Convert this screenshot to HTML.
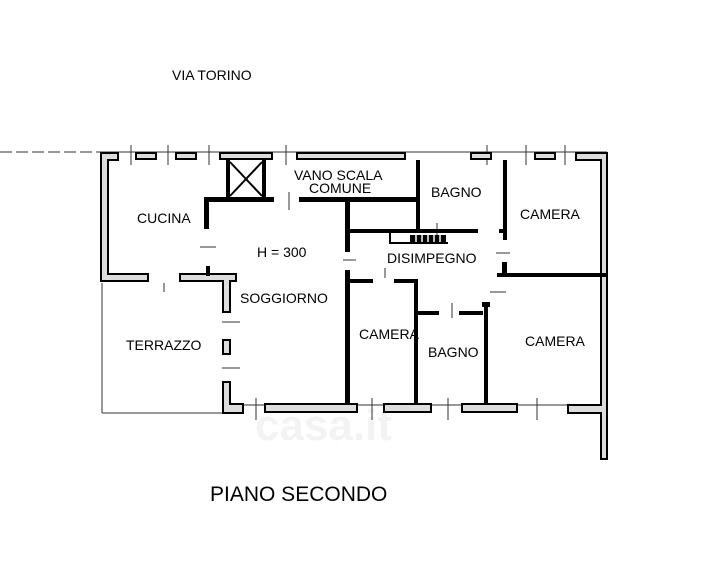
<!DOCTYPE html>
<html><head><meta charset="utf-8"><style>
html,body{margin:0;padding:0;background:#fff;}
svg{display:block;}
text{font-family:"Liberation Sans",Arial,sans-serif;fill:#000;}
</style></head><body>
<svg width="720" height="564" viewBox="0 0 720 564" xmlns="http://www.w3.org/2000/svg">
<rect width="720" height="564" fill="#fff"/>
<text x="255" y="440" font-size="44" font-weight="bold" style="fill:#f3f3f3">casa.it</text>
<g stroke="#333" stroke-width="1">
<line x1="0" y1="152" x2="100" y2="152" stroke-dasharray="12,4"/>
<line x1="100" y1="152" x2="607" y2="152"/>
<line x1="131" y1="145" x2="131" y2="165"/><line x1="168" y1="145" x2="168" y2="165"/>
<line x1="209" y1="145" x2="209" y2="165"/><line x1="286" y1="145" x2="286" y2="165"/>
<line x1="487" y1="145" x2="487" y2="165"/><line x1="526" y1="145" x2="526" y2="165"/>
<line x1="565" y1="145" x2="565" y2="165"/>
<line x1="102" y1="283" x2="102" y2="413"/>
<line x1="102" y1="413" x2="240" y2="413"/>
<line x1="164" y1="283" x2="164" y2="292"/>
<line x1="222" y1="322" x2="240" y2="322"/><line x1="222" y1="368" x2="240" y2="368"/>
<line x1="240" y1="405" x2="604" y2="405"/>
<line x1="256" y1="398" x2="256" y2="420"/><line x1="372" y1="398" x2="372" y2="420"/>
<line x1="448" y1="398" x2="448" y2="420"/><line x1="537" y1="398" x2="537" y2="420"/>
<line x1="289" y1="192" x2="289" y2="210"/><line x1="437" y1="223" x2="437" y2="240"/>
<line x1="200" y1="247" x2="216" y2="247"/><line x1="343" y1="260" x2="356" y2="260"/>
<line x1="496" y1="253" x2="510" y2="253"/><line x1="490" y1="292" x2="506" y2="292"/>
<line x1="385" y1="268" x2="385" y2="278"/>
<line x1="452" y1="303" x2="452" y2="318"/>
</g>
<g fill="#ddd" stroke="#000" stroke-width="2">
<path d="M101,153 H118 V160 H108 V274 H148 V281 H101 Z"/>
<path d="M180,274 H236 V281 H230 V312 H223 V281 H180 Z"/>
<rect x="136" y="153" width="20" height="6"/>
<rect x="176" y="153" width="20" height="6"/>
<rect x="220" y="153" width="52" height="6"/>
<rect x="297" y="153" width="108" height="6"/>
<rect x="471" y="153" width="20" height="6"/>
<rect x="535" y="153" width="20" height="6"/>
<path d="M576,153 H607 V459 H601 V413 H568 V405 H601 V160 H576 Z"/>
<rect x="223" y="340" width="7" height="14"/>
<path d="M223,382 H230 V404 H243 V413 H223 Z"/>
<rect x="265" y="404" width="92" height="8"/>
<rect x="384" y="404" width="47" height="8"/>
<rect x="462" y="404" width="55" height="8"/>
</g>
<g fill="#000">
<rect x="226" y="160" width="4" height="38"/>
<rect x="262" y="160" width="4" height="38"/>
<rect x="204" y="197" width="70" height="5"/>
<rect x="204" y="197" width="5" height="32"/>
<rect x="299" y="197" width="120" height="5"/>
<rect x="345" y="202" width="5" height="50"/>
<rect x="416" y="160" width="4" height="73"/>
<rect x="350" y="229" width="128" height="4"/>
<rect x="499" y="229" width="8" height="4"/>
<rect x="503" y="160" width="4" height="80"/>
<rect x="502" y="262" width="5" height="15"/>
<rect x="497" y="273" width="110" height="4"/>
<rect x="206" y="266" width="4" height="10"/>
<rect x="345" y="270" width="5" height="134"/>
<rect x="345" y="279" width="28" height="4"/>
<rect x="394" y="279" width="24" height="4"/>
<rect x="414" y="279" width="4" height="124"/>
<rect x="414" y="311" width="25" height="4"/>
<rect x="459" y="311" width="24" height="4"/>
<rect x="484" y="304" width="4" height="100"/>
<rect x="482" y="302" width="8" height="5"/>
</g>
<g stroke="#000" stroke-width="2" fill="none">
<line x1="230" y1="162" x2="262" y2="196"/><line x1="262" y1="162" x2="230" y2="196"/>
<path d="M390,233 V243 H448"/>
</g>
<g fill="#000"><rect x="410" y="235" width="36" height="7"/></g>
<g stroke="#fff" stroke-width="1.5"><line x1="416" y1="235" x2="416" y2="242"/><line x1="422" y1="235" x2="422" y2="242"/><line x1="428" y1="235" x2="428" y2="242"/><line x1="434" y1="235" x2="434" y2="242"/><line x1="440" y1="235" x2="440" y2="242"/></g>
<text x="172" y="80" font-size="14">VIA TORINO</text>
<text x="294" y="180" font-size="14">VANO SCALA</text>
<text x="309" y="193" font-size="14">COMUNE</text>
<text x="137" y="223" font-size="14">CUCINA</text>
<text x="257" y="257" font-size="14">H = 300</text>
<text x="431" y="197" font-size="14">BAGNO</text>
<text x="520" y="219" font-size="14">CAMERA</text>
<text x="387" y="263" font-size="14">DISIMPEGNO</text>
<text x="240" y="303" font-size="14">SOGGIORNO</text>
<text x="126" y="350" font-size="14">TERRAZZO</text>
<text x="359" y="339" font-size="14">CAMERA</text>
<text x="428" y="357" font-size="14">BAGNO</text>
<text x="525" y="346" font-size="14">CAMERA</text>
<text x="210" y="501" font-size="21">PIANO SECONDO</text>
</svg>
</body></html>
